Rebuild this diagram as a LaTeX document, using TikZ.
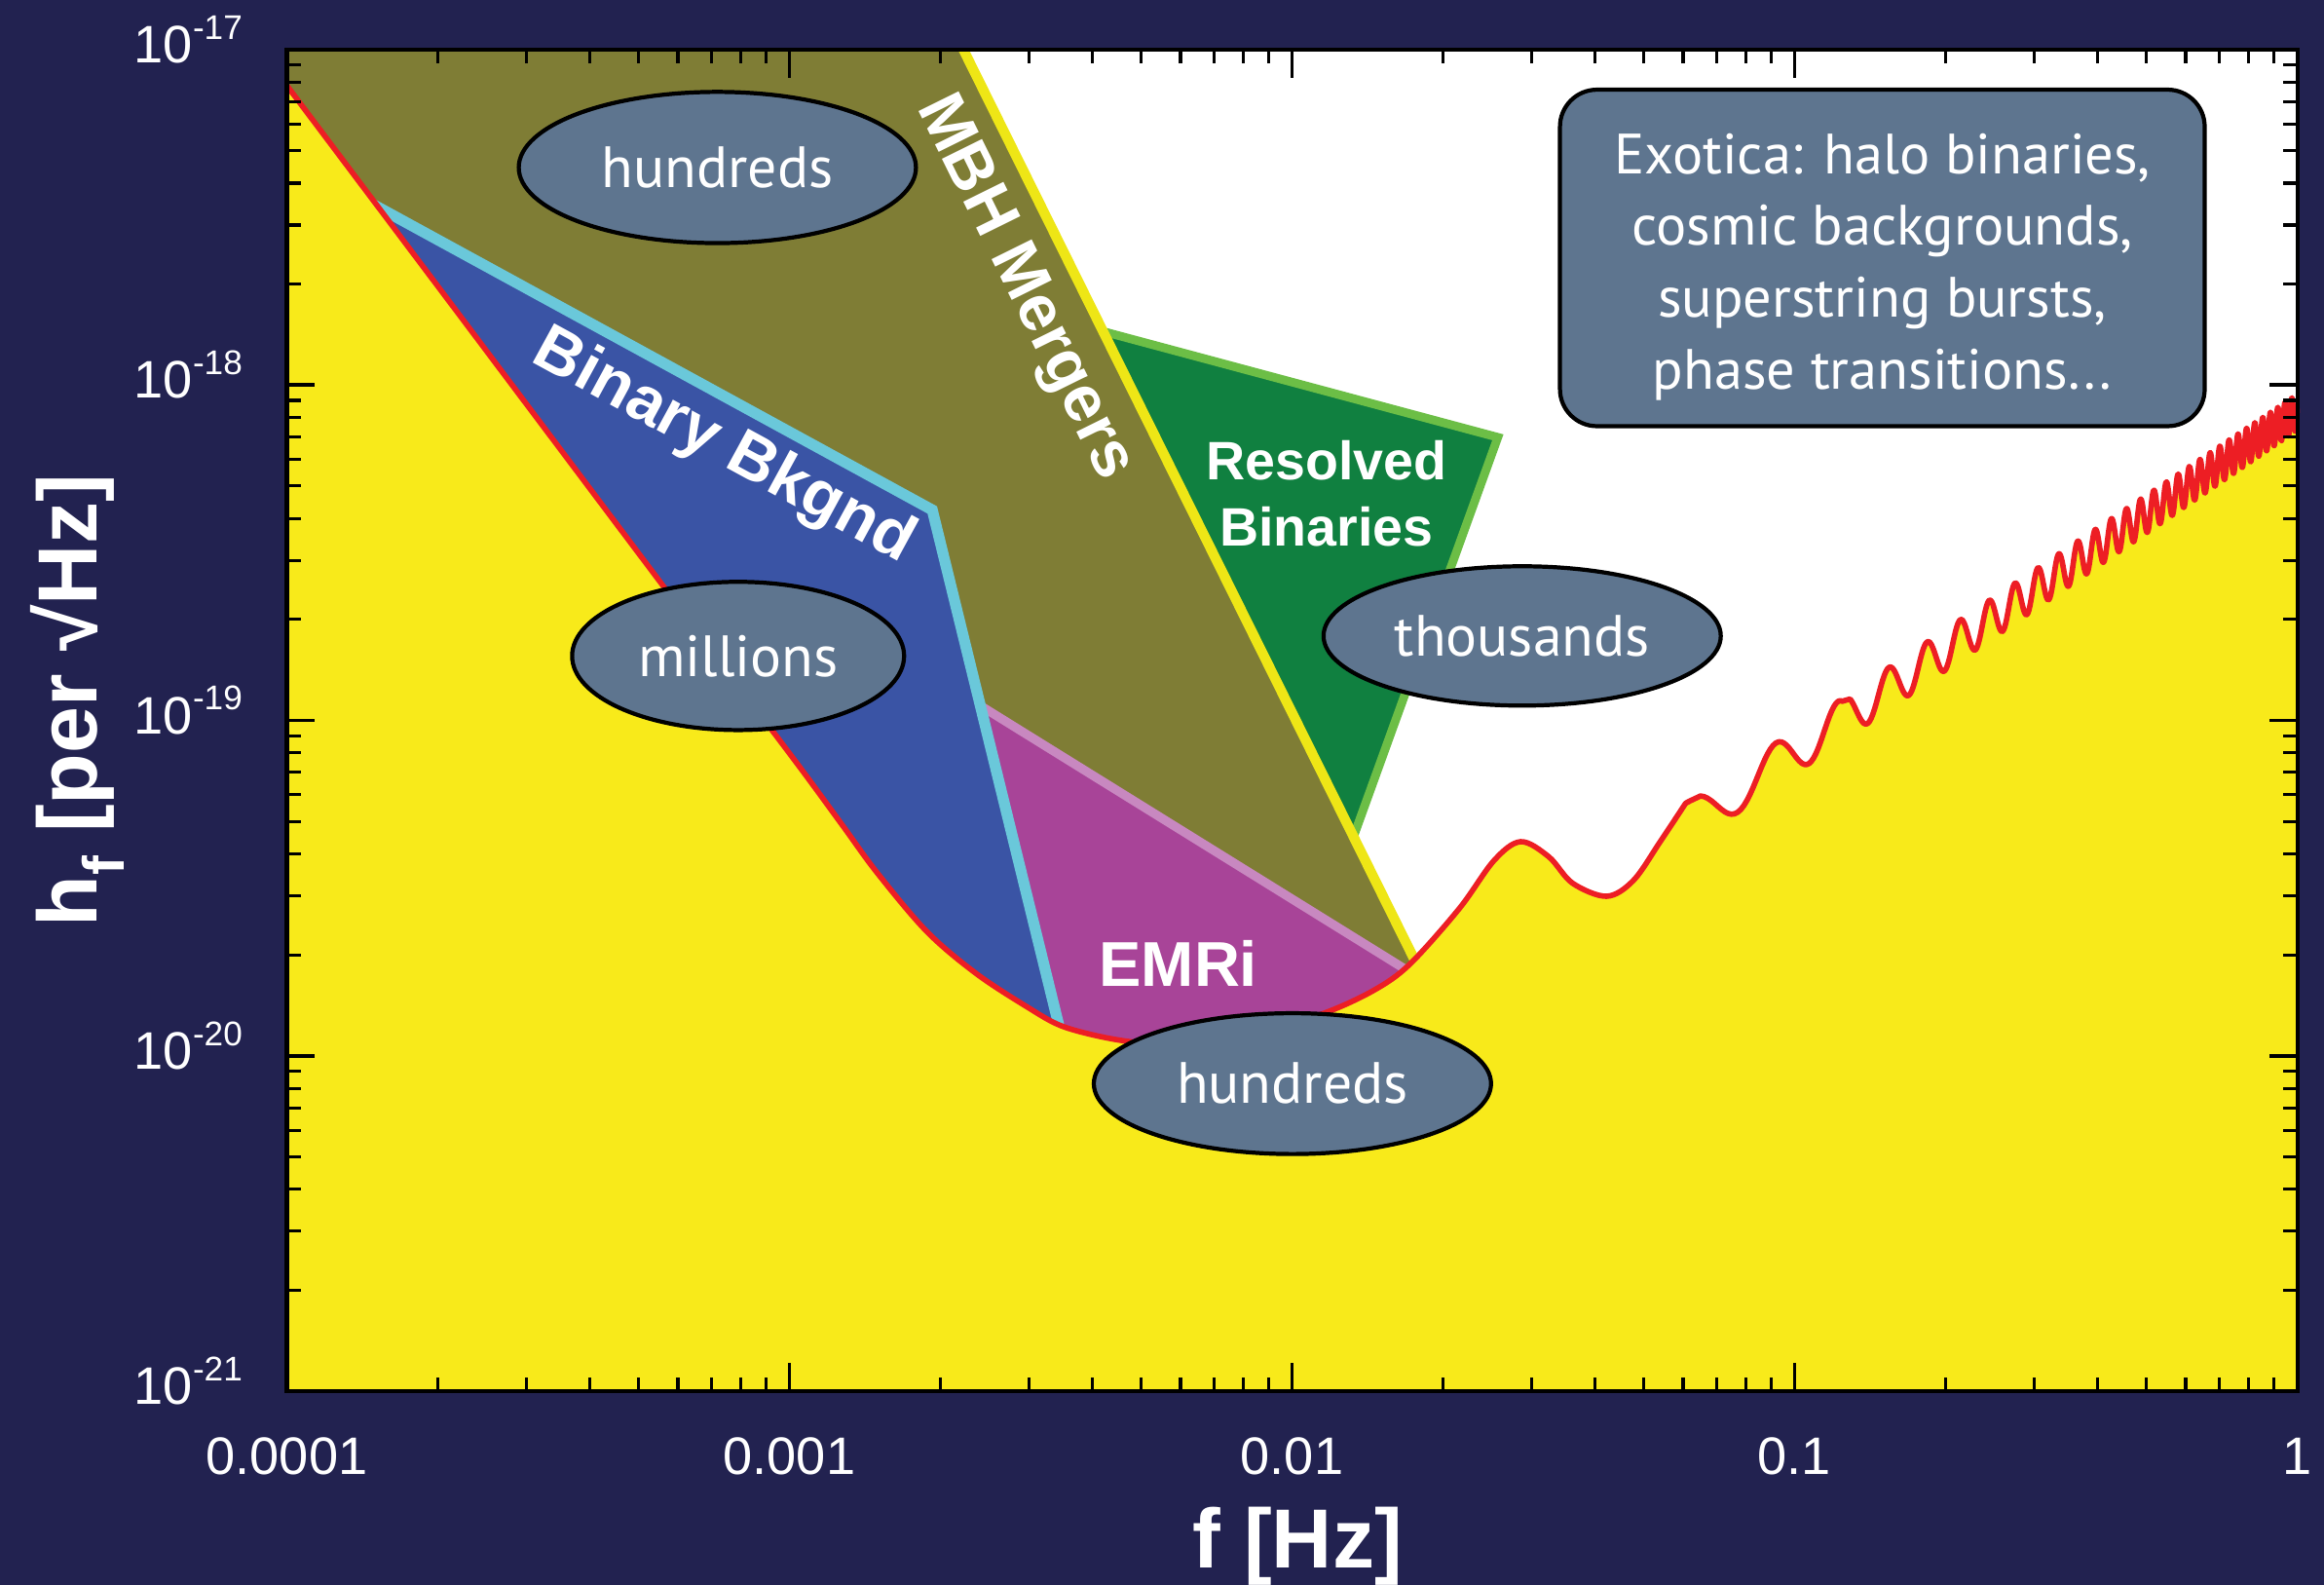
\documentclass[tikz,border=0pt]{standalone}
\usepackage{fontspec}
\setmainfont{PT Sans}
\newfontfamily\helv{Liberation Sans}
\usetikzlibrary{shapes.geometric}
\definecolor{navy}{RGB}{34,34,80}
\definecolor{lyel}{RGB}{248,234,26}
\definecolor{colMBH}{RGB}{127,125,53}
\definecolor{colBB}{RGB}{58,84,165}
\definecolor{colEMRI}{RGB}{168,68,152}
\definecolor{colRB}{RGB}{16,128,64}
\definecolor{colRBedge}{RGB}{108,190,70}
\definecolor{colcyan}{RGB}{106,200,218}
\definecolor{colpink}{RGB}{200,136,192}
\definecolor{colyline}{RGB}{238,230,22}
\definecolor{colred}{RGB}{237,30,36}
\definecolor{colell}{RGB}{94,117,143}
\def\pu{0.015217cm}
\tikzset{
  curvepath/.style={insert path={
    -- plot[smooth,tension=0.55] coordinates {(193.5,57.7) (300,199.2) (400,332.2) (448,396) (500,465) (540,518) (568.6,557) (592,589) (625.6,628.7) (659,657) (692.6,679) (716,692) (746,700) (775,704) (810,705) (850,697) (893.7,683.4) (927,668) (951,650.6) (984.5,613) (1008,580.5) (1026,567.8) (1045,578) (1061,595.8) (1084,604.6) (1102,594) (1120,568) (1137.2,542)}
    -- plot[domain=2:32.79,samples=800,variable=\t]
      ({193.5+339.1*(4+log10(0.0305*\t))},
       {542-0.6686*(339.1*(4+log10(0.0305*\t))-943.7)+(30-6*(339.1*(4+log10(0.0305*\t))-943.7)/412.8)*pow(sin(180*\t),2)})
  }},
  ell/.style={ellipse, draw=black, line width=1.2pt, fill=colell, text=white, inner sep=0pt,
    font=\fontsize{17}{20}\selectfont},
  exbox/.style={rectangle, rounded corners=0.38cm, draw=black, line width=1.2pt, fill=colell, text=white,
    align=center, inner sep=0pt, minimum width={435*\pu}, minimum height={227*\pu},
    font=\fontsize{16.6}{21}\selectfont},
  lab/.style={text=white, inner sep=0pt, font=\helv\bfseries\fontsize{19}{21}\selectfont},
  ticklab/.style={text=white, inner sep=0pt, font=\helv\fontsize{15.4}{18}\selectfont},
  axtitle/.style={text=white, inner sep=0pt, font=\helv\bfseries\fontsize{24.5}{28}\selectfont},
  majtick/.style={line width=1pt, black},
  mintick/.style={line width=0.9pt, black}
}
\begin{document}
\begin{tikzpicture}[x=0.015217cm,y=-0.015217cm]
\useasboundingbox (0,0) rectangle (1568,1069);
\fill[navy] (0,0) rectangle (1568,1069);
% plot area
\fill[lyel] (193.5,33.5) rectangle (1550,938.5);
\begin{scope}
  \clip (193.5,33.5) [curvepath] -- (1550,33.5) -- cycle;
  \fill[white] (193.5,33.5) rectangle (1550,938.5);
  \fill[colMBH] (193.5,33.5) -- (650,33.5) -- (1030,800) -- (193.5,800) -- cycle;
  \fill[colBB] (250,137) -- (629,344) -- (775,938.5) -- (193.5,938.5) -- (193.5,137) -- cycle;
  \fill[colEMRI] (661.4,476) -- (1000,686) -- (1000,938.5) -- (775,938.5) -- cycle;
  \fill[colRB] (742,223) -- (1010.6,295) -- (913,565) -- cycle;
  \draw[colpink, line width=2.6pt] (661.4,476) -- (1000,686);
  \draw[colRBedge, line width=2.5pt, line join=miter] (742,223) -- (1010.6,295) -- (913,565);
  \draw[colcyan, line width=3.2pt, line join=miter] (250,137) -- (629,344) -- (775,938.5);
  \draw[colyline, line width=2.9pt] (643.3,20) -- (1030,800);
\end{scope}
\draw[colred, line width=1.6pt, line join=round] (193.5,57.7) [curvepath];
% ticks
\foreach \k in {0,...,4}{
  \draw[majtick] ({193.5+339.1*\k},938.5) -- ++(0,-19);
  \draw[majtick] ({193.5+339.1*\k},33.5) -- ++(0,19);
  \draw[majtick] (193.5,{33.5+226.25*\k}) -- ++(19,0);
  \draw[majtick] (1550,{33.5+226.25*\k}) -- ++(-19,0);
}
\foreach \k in {0,...,3}{
  \foreach \m in {2,...,9}{
    \draw[mintick] ({193.5+339.1*(\k+log10(\m))},938.5) -- ++(0,-9.5);
    \draw[mintick] ({193.5+339.1*(\k+log10(\m))},33.5) -- ++(0,9.5);
    \draw[mintick] (193.5,{33.5+226.25*(\k+1-log10(\m))}) -- ++(9.5,0);
    \draw[mintick] (1550,{33.5+226.25*(\k+1-log10(\m))}) -- ++(-9.5,0);
  }
}
\draw[line width=1.2pt] (193.5,33.5) rectangle (1550,938.5);
% tick labels
\foreach \k/\e in {0/17,1/18,2/19,3/20,4/21}{
  \node[ticklab, anchor=base east] (yl\k) at (164,{33.5+226.25*\k+9}) {10\raisebox{6.9pt}{\fontsize{10}{12}\selectfont -\e}};
}
\foreach \k/\l in {0/0.0001,1/0.001,2/0.01,3/0.1,4/1}{
  \node[ticklab, anchor=base] (xl\k) at ({193.5+339.1*\k},994.5) {\l};
}
\node[axtitle, anchor=base] (xt) at (875.5,1058) {f [Hz]};
\node[axtitle, anchor=base, rotate=90] (yt) at (65.3,472.6) {h\raisebox{-8pt}{\fontsize{17}{17}\selectfont f} [per √Hz]};
% region labels
\node[lab, rotate=-28.6] (bb) at (488,302) {Binary Bkgnd};
\node[lab, rotate=-63.7] (mbh) at (690.5,194.5) {MBH Mergers};
\node[lab, align=center, font=\helv\bfseries\fontsize{15.8}{19.5}\selectfont] (rb) at (895,333) {Resolved\\Binaries};
\node[lab, font=\helv\bfseries\fontsize{18.5}{20}\selectfont] (emri) at (795,650) {EMRi};
% ellipses
\node[ell, minimum width={268*\pu}, minimum height={102*\pu}] (e1) at (484,113) {hundreds};
\node[ell, minimum width={224*\pu}, minimum height={100*\pu}] (e2) at (498,442.5) {millions};
\node[ell, minimum width={268*\pu}, minimum height={94*\pu}] (e3) at (1027,429) {thousands};
\node[ell, minimum width={268*\pu}, minimum height={95*\pu}] (e4) at (872,731) {hundreds};
\node[exbox] (ex) at (1270,174) {\rule{0pt}{17pt}Exotica: halo binaries,\\cosmic backgrounds,\\superstring bursts,\\phase transitions...};
\end{tikzpicture}
\end{document}
